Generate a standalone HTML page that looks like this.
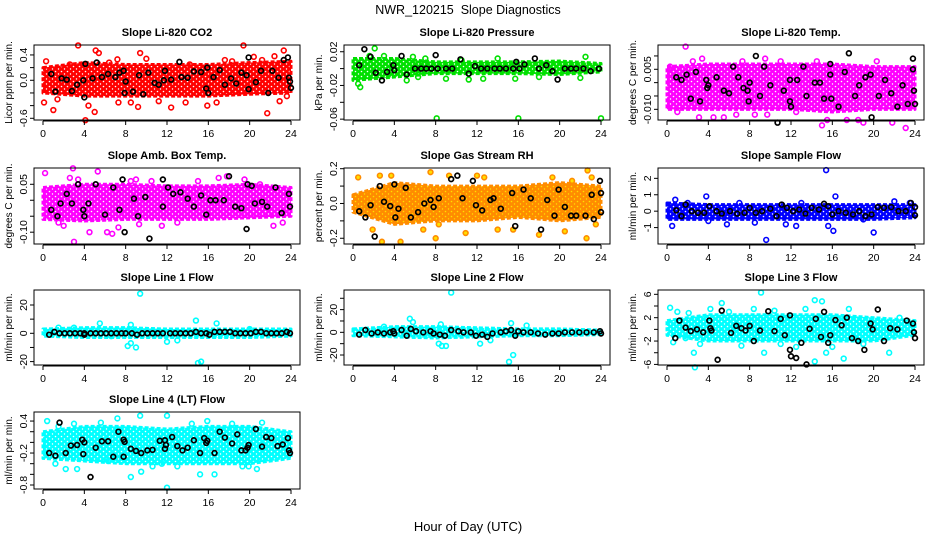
<!DOCTYPE html>
<html><head><meta charset="utf-8">
<style>
html,body{margin:0;padding:0;background:#fff;}
svg{display:block;font-family:"Liberation Sans",Arial,sans-serif;}
</style></head>
<body>
<svg id="chart" width="936" height="540" viewBox="0 0 936 540" xmlns="http://www.w3.org/2000/svg">
<defs id="defs"></defs>
<text x="468" y="14" text-anchor="middle" font-size="12.5">NWR_120215&#160; Slope Diagnostics</text>
<text x="468" y="531" text-anchor="middle" font-size="13">Hour of Day (UTC)</text>
</svg>
<script>
// ---- data ----
const hourTicks = [0,4,8,12,16,20,24];
const bandHours = [0,4,8,12,16,20,24];

const p1Lo = [-0.2,-0.25,-0.25,-0.25,-0.25,-0.22,-0.2];
const p1Hi = [0.2,0.28,0.25,0.25,0.25,0.28,0.3];
const p1Pts = [[0.1,-0.35],[0.3,0.3],[1.0,-0.47],[3.4,0.55],[4.1,-0.63],[4.4,-0.4],[5.1,0.47],[5.0,-0.5],[5.4,0.43],[7.2,0.33],[7.3,-0.35],[8.5,-0.35],[9.2,-0.42],[9.4,0.43],[10,0.34],[11.2,-0.33],[12.4,-0.43],[13.8,-0.35],[15.9,-0.4],[16.8,-0.35],[17.6,0.32],[19.4,0.55],[20.4,0.37],[21.7,-0.52],[22.4,0.38],[22.9,-0.33],[23.3,0.47],[23.6,-0.25],[1.4,-0.3],[2.6,0.25],[6.4,0.28],[14.2,0.25],[18.3,0.3],[21.2,0.32]];
const p1Blk = [[0.8,0.1],[1.2,-0.18],[1.8,0.03],[2.3,0.01],[2.8,-0.17],[3.3,-0.07],[3.9,0.0],[4.0,-0.27],[4.1,0.26],[4.8,0.03],[5.2,0.28],[5.7,0.05],[6.3,0.1],[7.0,0.05],[7.4,0.12],[7.8,0.15],[7.9,-0.2],[8.0,-0.02],[8.7,-0.18],[9.3,0.08],[9.7,-0.22],[10.2,0.12],[10.8,-0.04],[11.2,-0.07],[11.7,0.0],[11.8,0.15],[12.4,0.01],[13.2,0.29],[13.4,0.05],[14,0.04],[14.6,0.14],[15.3,0.13],[15.8,-0.13],[15.9,0.2],[16.0,-0.2],[16.5,0.05],[17.1,0.16],[17.6,-0.07],[18.2,0.03],[18.7,-0.05],[19.2,0.12],[19.7,0.08],[19.9,-0.14],[19.9,0.36],[20.6,-0.03],[21.1,0.15],[21.8,-0.2],[22.2,0.15],[22.8,0.04],[23.3,0.32],[23.7,0.36],[23.8,0.04],[23.9,-0.02],[24,-0.12]];

const p2Lo = [-0.014,-0.01,-0.006,-0.006,-0.006,-0.007,-0.004];
const p2Hi = [0.012,0.012,0.008,0.008,0.008,0.009,0.006];
const p2Pts = [[0.5,-0.018],[0.7,-0.022],[2.1,0.024],[1.6,0.015],[3,0.015],[5.2,-0.014],[5.8,0.014],[8.1,-0.059],[16,-0.059],[24,-0.059],[7.0,0.012],[9,-0.012],[11.2,-0.013],[10.5,0.01],[14,0.012],[18,-0.01],[22,-0.011],[22.5,0.014],[15.7,-0.012],[6.3,-0.01],[12.6,-0.012]];
const p2Blk = [[0.6,0.004],[1.1,0.023],[1.7,0.014],[2.2,-0.005],[2.8,-0.014],[3.3,-0.004],[3.9,0.004],[4.0,-0.002],[4.7,0.015],[5.2,-0.007],[6,0],[6.6,0],[7.1,0],[7.6,0],[8,0.016],[8.2,0],[9,0],[9.6,0],[10.4,0.011],[11.2,-0.006],[11.8,0.003],[12.4,0],[13,0],[13.7,0],[14.2,0],[14.8,0],[15.5,0],[15.8,0.008],[16.1,0],[16.6,0.005],[17.6,0.012],[18,0],[18.7,0.004],[19.3,-0.003],[19.8,-0.013],[20.5,0],[21.1,0],[21.6,0],[22.3,0],[23,-0.003],[23.8,0]];

const p3Lo = [-0.01,-0.01,-0.01,-0.01,-0.011,-0.01,-0.01];
const p3Hi = [0.006,0.007,0.007,0.007,0.007,0.006,0.006];
const p3Pts = [[1.8,0.0135],[2.5,0.008],[3.1,-0.013],[3.4,0.009],[4.5,-0.013],[5.5,-0.013],[6.7,-0.012],[7.3,0.008],[8.5,-0.012],[9.5,0.009],[9.7,-0.012],[12.5,-0.011],[14.5,0.008],[15,-0.016],[15.5,-0.014],[17.4,-0.014],[18.5,-0.014],[19,-0.015],[20.3,0.008],[21.8,-0.015],[23.1,-0.017],[1.0,-0.011],[0.3,0.006],[11,0.008]];
const p3Blk = [[0.9,0.002],[1.4,0.001],[1.9,0.003],[2.3,-0.006],[2.8,0.004],[3.2,-0.007],[3.8,0.001],[3.9,-0.002],[4.0,-0.001],[4.8,0.002],[5.5,-0.003],[6.0,-0.004],[6.4,0.006],[6.9,0.002],[7.4,-0.002],[7.8,-0.003],[7.9,-0.007],[8.0,0.0],[8.6,0.01],[9.0,-0.005],[9.4,0.006],[10,-0.001],[10.7,-0.015],[11.3,-0.003],[11.9,0.001],[11.9,-0.007],[12.0,-0.009],[12.6,0.001],[13.2,0.006],[13.5,-0.005],[14.3,0.0],[14.8,0.0],[15.2,-0.006],[15.8,0.007],[15.8,0.003],[15.9,-0.006],[16.6,-0.009],[17.2,0.004],[17.6,0.011],[18.2,-0.005],[18.6,-0.001],[19.2,0.002],[19.7,0.003],[19.8,-0.013],[20.5,-0.005],[21.1,0.001],[21.7,-0.004],[22.3,-0.009],[22.8,-0.001],[23.3,-0.008],[23.8,0.009],[23.8,0.005],[23.9,-0.003],[24,-0.008]];

const p4Lo = [-0.06,-0.065,-0.06,-0.06,-0.06,-0.055,-0.05];
const p4Hi = [0.04,0.05,0.05,0.045,0.045,0.05,0.04];
const p4Pts = [[0.2,0.085],[1.5,-0.07],[2.0,-0.08],[2.6,0.07],[2.9,0.1],[3.0,-0.13],[3.4,0.065],[4.5,-0.1],[5.3,0.09],[6.2,-0.1],[6.7,-0.105],[7.3,-0.085],[9,0.065],[9.3,-0.075],[11.5,-0.08],[13,-0.07],[15,0.06],[17,0.07],[17.8,0.075],[19.5,0.065],[21,0.05],[22.3,-0.08],[23.2,-0.07],[8.5,0.06],[10.5,0.06]];
const p4Blk = [[0.8,-0.03],[1.4,-0.05],[1.7,-0.01],[2.3,0.02],[2.8,-0.01],[3.4,0.05],[3.9,-0.03],[4.0,-0.05],[4.4,-0.01],[5.1,0.05],[6.0,-0.045],[6.8,0.04],[7.4,-0.03],[7.7,0.065],[7.9,-0.1],[8.8,0.005],[9.2,-0.05],[9.9,0.01],[10.3,-0.12],[11.6,0.065],[11.6,-0.02],[12.1,0.04],[12.6,0.02],[13.3,0.025],[14,0.005],[14.6,-0.02],[15.3,0.015],[15.8,-0.045],[16.2,0.0],[16.7,0.0],[17.5,0.0],[18.0,0.075],[18.6,-0.02],[19.2,-0.025],[19.7,-0.09],[19.8,0.05],[20.2,0.045],[20.5,-0.01],[21.2,-0.005],[21.7,-0.02],[22.5,0.04],[23.1,-0.04],[23.8,0.02],[23.9,-0.02]];

const p5Lo = [-0.05,-0.12,-0.1,-0.1,-0.08,-0.1,-0.08];
const p5Hi = [0.05,0.12,0.1,0.1,0.1,0.12,0.1];
const p5Pts = [[0.5,0.15],[1.9,-0.15],[2.6,0.16],[2.8,-0.22],[3.7,0.16],[4.6,-0.22],[6.8,-0.15],[7.5,0.18],[8,-0.2],[8.3,-0.12],[9.3,0.16],[10.9,-0.17],[12,0.16],[12.7,0.15],[14,-0.15],[15.5,-0.15],[18,-0.18],[19.3,0.15],[20.5,-0.16],[21.2,0.13],[22.7,0.19],[22.6,-0.2],[23.5,-0.12],[23.1,0.15]];
const p5Blk = [[0.6,-0.045],[1.2,-0.08],[1.7,-0.01],[2.1,-0.19],[2.6,0.1],[3.0,0.01],[3.6,-0.015],[4.0,0.11],[4.1,-0.08],[4.4,-0.03],[5.1,0.09],[5.6,-0.08],[6.3,-0.05],[6.9,0.0],[7.5,0.02],[7.8,-0.02],[8.3,0.03],[9.5,0.14],[10.1,0.16],[10.6,0.03],[11.6,0.13],[11.9,-0.01],[12.5,-0.04],[13.3,0.02],[13.6,0.03],[14.3,-0.03],[15.4,0.06],[15.7,-0.13],[16.5,0.08],[17.2,0.03],[18.2,-0.15],[18.8,0.02],[19.5,-0.07],[19.9,0.08],[20.5,-0.02],[21.1,-0.07],[21.6,-0.07],[22.5,-0.07],[23.1,0.05],[23.3,-0.09],[23.9,0.13],[24,0.06],[24,-0.05]];

const p6Lo = [-0.5,-0.5,-0.5,-0.5,-0.5,-0.5,-0.4];
const p6Hi = [0.5,0.4,0.4,0.4,0.4,0.4,0.4];
const p6Pts = [[0.5,-0.9],[0.8,0.7],[2,0.5],[3.8,0.9],[4,-0.6],[5.8,-0.8],[8.5,-0.7],[9.6,-1.75],[11.5,-0.8],[12.5,-0.9],[15.4,2.5],[15.6,-0.9],[16.1,-1.2],[16.3,0.9],[20,-1.3],[19,-0.5],[22,0.6],[23.5,0.5],[7,0.5],[13,0.5]];
const p6Blk = [[0.9,0.05],[1.4,-0.3],[1.8,0.4],[2.4,0.0],[3.0,-0.1],[3.6,-0.1],[4.1,0.3],[4.8,0.0],[5.3,-0.15],[6.1,0.0],[6.8,-0.15],[7.5,-0.1],[8,0.2],[8.6,-0.1],[9.2,0.0],[10,0.15],[10.6,-0.3],[11.1,0.4],[11.6,0.2],[12.2,0.0],[12.8,0.1],[13.4,-0.15],[14,0.2],[14.7,0.1],[15.2,0.45],[15.6,0.3],[16,-0.2],[16.6,0.0],[17.3,-0.1],[18,-0.2],[18.6,0.0],[19.2,-0.3],[19.8,-0.2],[20.4,0.25],[21,0.2],[21.7,0.25],[22.4,0.0],[23.1,0.0],[23.6,0.5],[24,0.25],[24,-0.25]];

const p7Lo = [-2,-3,-3,-3,-3,-3,-2];
const p7Hi = [3,4,4,3,3,3,3];
const p7Pts = [[5.5,7],[8.2,-9],[8.5,-7],[9,-10],[9.4,28],[8.5,6],[12,-6],[13,-5],[14.8,9],[15,-21],[15.3,-20],[16.8,7],[3,4],[1.5,4],[6.6,-2],[20,3]];
const p7Blk = [[0.6,-1],[1.1,1],[1.6,0],[2.1,0],[2.6,0],[3.1,0],[3.6,0],[4,0],[4,-1],[4.6,0],[5.1,0],[5.6,0],[6.1,0],[6.6,0],[7.1,0],[7.6,0],[8,0],[8.6,0],[9.1,-1],[9.6,0],[10.1,0],[10.6,0],[11.1,0],[11.6,0],[12.3,0],[12.8,0],[13.3,0],[13.8,0],[14.3,0],[14.8,1],[15.3,0],[15.8,0],[16.1,-1],[16.6,1],[17.1,1],[17.6,1],[18.1,1],[18.6,0],[19.1,0],[19.6,0],[20.1,0],[20.6,1],[21.1,1],[21.6,0],[22.1,0],[22.6,0],[23.1,0],[23.6,1],[23.9,0]];

const p8Lo = [-3,-4,-5,-4,-3,-3,-2];
const p8Hi = [3,5,5,4,3,3,2];
const p8Pts = [[5.5,12],[5.8,9],[8.3,-10],[8.6,-12],[9.0,-12],[9.5,35],[8.5,7],[12.3,-10],[13.3,-7],[15.3,8],[15.5,-20],[15.1,-26],[16.8,6],[3,5]];
const p8Blk = [[0.6,-2],[1.2,2],[1.8,-1],[2.4,0],[3,-1],[3.6,0],[3.9,1],[4,-1],[4.7,2],[5.2,-3],[5.6,3],[6.1,1],[6.8,0],[7.5,1],[7.8,-1],[8.4,-2],[8.9,-3],[9.5,2],[10.2,1],[10.7,0],[11.4,0],[11.9,-3],[12.5,-2],[13,-4],[13.5,-1],[14.3,0],[14.8,1],[15.3,2],[15.7,-3],[16,1],[16.5,0],[17.2,0],[17.9,-1],[18.6,-2],[19.3,-1],[19.9,-1],[20.5,0],[21.2,0],[21.9,0],[22.6,0],[23.3,0],[23.9,1],[24,-1]];

const p9Lo = [-1,-2,-2,-2,-2,-2,-1];
const p9Hi = [1.5,2.5,2.5,2.5,2.5,2,1.5];
const p9Pts = [[0.3,3.7],[0.6,-2.2],[1.0,3],[2.1,2.8],[2.6,-4],[2.7,-6.5],[3.2,-2.5],[4.2,3.5],[5.3,4.5],[7.2,-2.8],[8.4,3.5],[9.1,6.3],[9.4,-4],[10.4,3.2],[11,-2.5],[12.5,-3],[13.4,3.5],[14.3,5],[14.3,-5.5],[15.0,4.8],[15.4,-4],[16,-3],[17.1,-5],[17.6,3.5],[19,-2.5],[21.5,-4],[22.5,2],[1.8,-1.5],[6,3]];
const p9Blk = [[0.8,-1.5],[1.2,1.5],[1.8,0.3],[2.3,-0.3],[2.9,0.0],[3.5,-0.5],[4.1,1.5],[4.2,0.2],[4.3,-0.2],[4.9,-5.2],[5.3,3.2],[6.2,-0.6],[6.7,0.6],[7.2,0.2],[7.6,-0.2],[8,0.6],[8.4,-2],[9.0,-0.2],[9.8,3.1],[10.4,-0.3],[11,1.8],[11.4,-1],[11.9,-3.5],[11.9,2.4],[12,-4.6],[12.5,-4.9],[13,-2.3],[13.5,-6],[13.8,0.1],[14.4,1.8],[14.9,-1.3],[15.2,3],[15.6,-2.3],[15.8,-1],[16.3,1.6],[16.9,0.7],[17.4,2],[17.9,-1.5],[18.5,-2],[19.1,-3.5],[19.7,1],[19.9,0],[20.4,3.4],[21.0,-2],[21.6,0.2],[22.3,0],[23.2,1.5],[23.8,1],[23.9,-0.5],[24,-1.5]];

const p10Lo = [-0.3,-0.35,-0.4,-0.4,-0.4,-0.4,-0.3];
const p10Hi = [0.2,0.3,0.3,0.25,0.3,0.3,0.2];
const p10Pts = [[0.4,0.4],[1.2,-0.4],[2.2,-0.5],[3.3,-0.5],[3.0,0.35],[5.6,0.37],[6.3,-0.35],[7.2,0.45],[8.5,-0.65],[9.5,-0.55],[9.4,0.5],[10.6,-0.45],[11.5,-0.4],[12,0.5],[12,-0.85],[13,-0.45],[14.4,0.35],[15.2,-0.6],[15.9,0.4],[16.6,-0.6],[18.3,0.35],[19.3,-0.45],[19.9,-0.45],[20.7,-0.5],[21.2,0.37],[1.5,0.3]];
const p10Blk = [[0.6,-0.2],[1.2,-0.25],[1.6,0.37],[2.2,-0.2],[2.7,-0.06],[3.3,-0.05],[3.8,0.05],[3.9,-0.22],[4.0,0.0],[4.6,-0.65],[5.1,-0.1],[5.7,0.02],[6.3,0.02],[6.8,-0.27],[7.3,0.2],[7.8,-0.27],[7.8,0.05],[7.9,0.01],[8.5,-0.12],[9.0,-0.16],[9.5,-0.2],[10.1,-0.15],[10.6,-0.14],[11.3,0.03],[11.8,0.04],[11.8,-0.12],[11.9,-0.05],[12.5,0.1],[13.0,-0.07],[13.5,-0.15],[14.0,-0.1],[14.6,0.04],[15.2,-0.2],[15.6,0.08],[15.8,-0.01],[15.9,0.03],[16.6,-0.2],[17.1,0.2],[17.6,0.09],[18.3,-0.02],[18.8,0.15],[19.2,-0.15],[19.6,-0.15],[19.8,-0.1],[19.9,-0.05],[20.6,0.25],[21.2,-0.08],[21.6,0.1],[22.1,0.08],[22.7,-0.07],[23.2,-0.04],[23.7,0.08],[23.8,-0.15],[23.9,-0.2]];

const p1Ticks=[-0.6,-0.4,-0.2,0,0.2,0.4], p1Labels=["-0.6","","","0.0","","0.4"];
const p2Ticks=[-0.06,-0.04,-0.02,0,0.02], p2Labels=["-0.06","","-0.02","","0.02"];
const p3Ticks=[-0.010,-0.005,0,0.005,0.010], p3Labels=["-0.010","","","0.005",""];
const p4Ticks=[-0.10,-0.05,0,0.05], p4Labels=["-0.10","","","0.05"];
const p5Ticks=[-0.2,-0.1,0,0.1,0.2], p5Labels=["-0.2","","0.0","","0.2"];
const p6Ticks=[-1,0,1,2], p6Labels=["-1","0","1","2"];
const p7Ticks=[-20,-10,0,10,20], p7Labels=["-20","","0","","20"];
const p8Ticks=[-20,-10,0,10,20,30], p8Labels=["-20","","0","","20",""];
const p9Ticks=[-6,-4,-2,0,2,4,6], p9Labels=["-6","","-2","","2","","6"];
const p10Ticks=[-0.8,-0.6,-0.4,-0.2,0,0.2,0.4], p10Labels=["-0.8","","","-0.2","","","0.4"];

// ---- layout ----
const svg = document.getElementById('chart');
const defs = document.getElementById('defs');
const NS = 'http://www.w3.org/2000/svg';
const cols = [34,344,658], rowsTop=[45,168,290,412], rowsBot=[120,244,365,489];
const panels = [
 {key:'co2',title:'Slope Li-820 CO2',yl:'Licor ppm per min.',c:0,r:0,ymin:-0.627,ymax:0.557,col:'#ff0000',lo:p1Lo,hi:p1Hi,pts:p1Pts,blk:p1Blk,ticks:p1Ticks,labels:p1Labels},
 {key:'pressure',title:'Slope Li-820 Pressure',yl:'kPa per min.',c:1,r:0,ymin:-0.061,ymax:0.028,col:'#00e000',lo:p2Lo,hi:p2Hi,pts:p2Pts,blk:p2Blk,ticks:p2Ticks,labels:p2Labels},
 {key:'temp',title:'Slope Li-820 Temp.',yl:'degrees C per min.',c:2,r:0,ymin:-0.014,ymax:0.0141,col:'#ff00ff',lo:p3Lo,hi:p3Hi,pts:p3Pts,blk:p3Blk,ticks:p3Ticks,labels:p3Labels},
 {key:'amb-box-temp',title:'Slope Amb. Box Temp.',yl:'degrees C per min.',c:0,r:1,ymin:-0.137,ymax:0.101,col:'#ff00ff',lo:p4Lo,hi:p4Hi,pts:p4Pts,blk:p4Blk,ticks:p4Ticks,labels:p4Labels},
 {key:'gas-stream-rh',title:'Slope Gas Stream RH',yl:'percent per min.',c:1,r:1,ymin:-0.233,ymax:0.204,col:'#ff8c00',fill:'#ffe000',lo:p5Lo,hi:p5Hi,pts:p5Pts,blk:p5Blk,ticks:p5Ticks,labels:p5Labels},
 {key:'sample-flow',title:'Slope Sample Flow',yl:'ml/min per min.',c:2,r:1,ymin:-2.0,ymax:2.63,col:'#0000ff',lo:p6Lo,hi:p6Hi,pts:p6Pts,blk:p6Blk,ticks:p6Ticks,labels:p6Labels},
 {key:'line1-flow',title:'Slope Line 1 Flow',yl:'ml/min per min.',c:0,r:2,ymin:-22.4,ymax:30.6,col:'#00ffff',lo:p7Lo,hi:p7Hi,pts:p7Pts,blk:p7Blk,ticks:p7Ticks,labels:p7Labels},
 {key:'line2-flow',title:'Slope Line 2 Flow',yl:'ml/min per min.',c:1,r:2,ymin:-28.8,ymax:37.3,col:'#00ffff',lo:p8Lo,hi:p8Hi,pts:p8Pts,blk:p8Blk,ticks:p8Ticks,labels:p8Labels},
 {key:'line3-flow',title:'Slope Line 3 Flow',yl:'ml/min per min.',c:2,r:2,ymin:-6.1,ymax:6.74,col:'#00ffff',lo:p9Lo,hi:p9Hi,pts:p9Pts,blk:p9Blk,ticks:p9Ticks,labels:p9Labels},
 {key:'line4-flow',title:'Slope Line 4 (LT) Flow',yl:'ml/min per min.',c:0,r:3,ymin:-0.875,ymax:0.57,col:'#00ffff',lo:p10Lo,hi:p10Hi,pts:p10Pts,blk:p10Blk,ticks:p10Ticks,labels:p10Labels}
];

function mk(tag, attrs, parent){
  const e=document.createElementNS(NS,tag);
  for(const k in attrs) e.setAttribute(k,attrs[k]);
  (parent||svg).appendChild(e);
  return e;
}

panels.forEach(p=>{
  // speckled texture pattern imitating overlapping open circles
  const pat=mk('pattern',{id:'pat-'+p.key,width:6,height:5,patternUnits:'userSpaceOnUse'},defs);
  mk('rect',{x:0,y:0,width:6,height:5,fill:p.col},pat);
  mk('circle',{cx:1.5,cy:1.5,r:0.8,fill:p.fill||'#fff'},pat);
  mk('circle',{cx:4.5,cy:4,r:0.7,fill:p.fill||'#fff'},pat);

  const L=cols[p.c], T=rowsTop[p.r], B=rowsBot[p.r], W=266;
  const xs=h=>L+9+h*(248/24);
  const ys=v=>B-(v-p.ymin)/(p.ymax-p.ymin)*(B-T);
  const g=mk('g',{});
  
  

  const t=mk('text',{x:L+W/2,y:T-9,'text-anchor':'middle','font-size':'11','font-weight':'bold'},g);
  t.textContent=p.title;
  
  

  let d='';
  bandHours.forEach((h,i)=>{ d+=(i?'L':'M')+xs(h)+','+ys(p.hi[i]); });
  for(let i=bandHours.length-1;i>=0;i--) d+='L'+xs(bandHours[i])+','+ys(p.lo[i]);
  const band=mk('path',{d:d+'Z',fill:'url(#pat-'+p.key+')',stroke:p.col,'stroke-width':'3','stroke-linejoin':'round','stroke-dasharray':'4 2'},g);
  
  

  p.pts.forEach(pt=>{
    const c=mk('circle',{cx:xs(pt[0]),cy:ys(pt[1]),r:2.4,fill:p.fill||'none',stroke:p.col,'stroke-width':'1.6'},g);
    
    
  });
  p.blk.forEach(pt=>{
    const c=mk('circle',{cx:xs(pt[0]),cy:ys(pt[1]),r:2.4,fill:'none',stroke:'#000','stroke-width':'1.7'},g);
    
    
  });

  const box=mk('rect',{x:L,y:T,width:W,height:B-T,fill:'none',stroke:'#000','stroke-width':'1'},g);
  
  

  const xa=mk('g',{},g);
  
  
  mk('line',{x1:xs(0),x2:xs(24),y1:B+1,y2:B+1,stroke:'#000'},xa);
  hourTicks.forEach(h=>{
    mk('line',{x1:xs(h),x2:xs(h),y1:B+1,y2:B+5,stroke:'#000'},xa);
    const tl=mk('text',{x:xs(h),y:B+17,'text-anchor':'middle','font-size':'10.5'},xa);
    tl.textContent=h;
    
    
  });
  const ya=mk('g',{},g);
  
  
  const t0=ys(p.ticks[0]), t1=ys(p.ticks[p.ticks.length-1]);
  mk('line',{x1:L,x2:L,y1:t0,y2:t1,stroke:'#000'},ya);
  p.ticks.forEach((v,i)=>{
    const y=ys(v);
    mk('line',{x1:L-4,x2:L,y1:y,y2:y,stroke:'#000'},ya);
    if(p.labels[i]){
      const tl=mk('text',{x:L-7,y:y,'text-anchor':'middle','font-size':'10.5',transform:'rotate(-90 '+(L-7)+' '+y+')'},ya);
      tl.textContent=p.labels[i];
      
      
    }
  });
  const cy=(T+B)/2;
  const yl=mk('text',{x:L-22,y:cy,'text-anchor':'middle','font-size':'10',transform:'rotate(-90 '+(L-22)+' '+cy+')'},g);
  yl.textContent=p.yl;
  
  
});
</script>
</body></html>
